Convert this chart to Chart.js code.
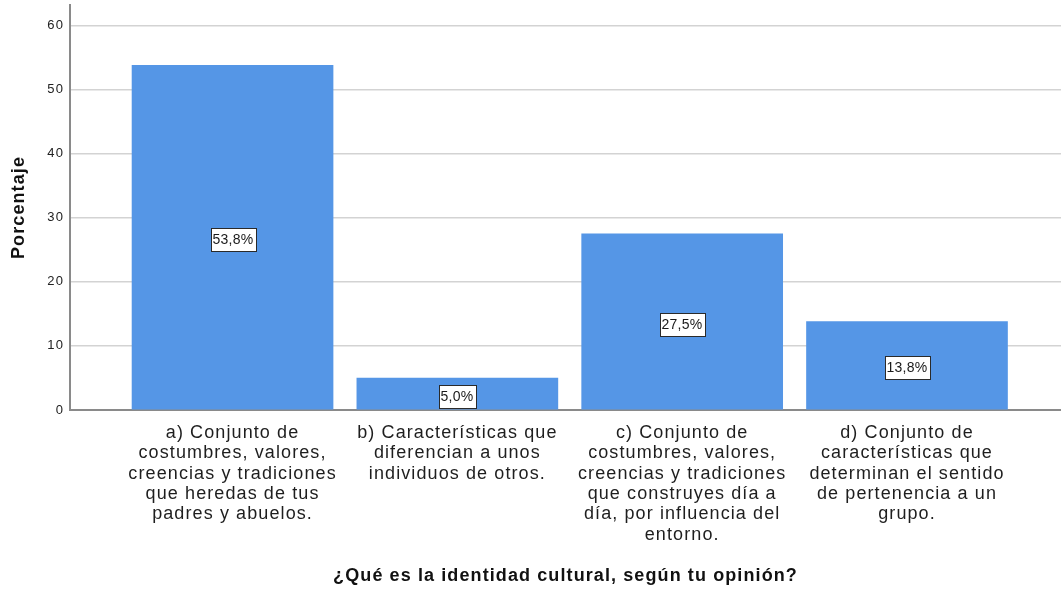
<!DOCTYPE html>
<html lang="es">
<head>
  <meta charset="UTF-8">
  <title>Identidad cultural</title>
  <script src="https://cdn.jsdelivr.net/npm/chart.js"></script>
  <style>
    body {
      margin: 0;
      background: #fff;
    }
    #grafico {
      display: block;
    }
  </style>
</head>
<body>
  <canvas id="grafico" width="1061" height="589"></canvas>

  <script>
    // Datos
    const categorias = [
      ['a) Conjunto de', 'costumbres, valores,', 'creencias y tradiciones', 'que heredas de tus', 'padres y abuelos.'],
      ['b) Características que', 'diferencian a unos', 'individuos de otros.'],
      ['c) Conjunto de', 'costumbres, valores,', 'creencias y tradiciones', 'que construyes día a', 'día, por influencia del', 'entorno.'],
      ['d) Conjunto de', 'características que', 'determinan el sentido', 'de pertenencia a un', 'grupo.']
    ];
    const porcentajes = [53.8, 5.0, 27.5, 13.8];
    const tituloX = '¿Qué es la identidad cultural, según tu opinión?';
    const tituloY = 'Porcentaje';

    const FUENTE = '"Liberation Sans", Arial, sans-serif';
    const ESPACIADO = '1.1px';

    // el grafico original esta algo estirado, se imita con letterSpacing
    const espaciado = {
      id: 'espaciado',
      beforeLayout(chart) { chart.ctx.letterSpacing = ESPACIADO; },
      beforeDraw(chart) { chart.ctx.letterSpacing = ESPACIADO; }
    };

    // etiquetas con caja blanca en el centro de cada barra
    const etiquetas = {
      id: 'etiquetas',
      afterDatasetsDraw(chart) {
        const ctx = chart.ctx;
        const meta = chart.getDatasetMeta(0);
        ctx.save();
        ctx.letterSpacing = '0.3px';
        ctx.font = '14px ' + FUENTE;
        ctx.textAlign = 'center';
        ctx.textBaseline = 'middle';
        meta.data.forEach((barra, i) => {
          const texto = porcentajes[i].toFixed(1).replace('.', ',') + '%';
          const w = Math.round(ctx.measureText(texto).width + 4);
          const h = 23;
          const cx = Math.round(barra.x);
          const cy = Math.round((barra.y + barra.base) / 2 + 2);
          const x0 = Math.round(cx - w / 2) + 0.5;
          const y0 = Math.round(cy - h / 2) + 0.5;
          ctx.fillStyle = '#ffffff';
          ctx.fillRect(x0, y0, w, h);
          ctx.strokeStyle = '#2a2a2a';
          ctx.lineWidth = 1;
          ctx.strokeRect(x0, y0, w, h);
          ctx.fillStyle = '#1a1a1a';
          ctx.fillText(texto, cx, cy + 1);
        });
        ctx.restore();
      }
    };

    const ctx = document.getElementById('grafico').getContext('2d');

    new Chart(ctx, {
      type: 'bar',
      data: {
        datasets: [{
          data: porcentajes.map((v, i) => ({ x: i + 1, y: v })),
          backgroundColor: '#5596e6',
          borderWidth: 0,
          barThickness: 201
        }]
      },
      options: {
        responsive: false,
        animation: false,
        layout: {
          padding: { top: 5, left: 0, right: 0, bottom: 0 }
        },
        plugins: {
          legend: { display: false },
          tooltip: { enabled: false }
        },
        scales: {
          x: {
            type: 'linear',
            offset: false,
            min: 0.277,
            max: 4.685,
            afterBuildTicks: scale => {
              scale.ticks = categorias.map((c, i) => ({ value: i + 1 }));
            },
            afterFit: scale => {
              scale.height = 179;
              scale.paddingLeft = 0;
              scale.paddingRight = 0;
            },
            grid: { display: false, drawTicks: false, offset: false },
            border: { display: true, color: '#8a8a8a', width: 2 },
            ticks: {
              autoSkip: false,
              maxRotation: 0,
              minRotation: 0,
              padding: 13,
              color: '#1e1e1e',
              font: { family: FUENTE, size: 18, lineHeight: 1.13 },
              callback: value => categorias[value - 1]
            },
            title: {
              display: true,
              text: tituloX,
              color: '#111',
              font: { family: FUENTE, size: 18, weight: 'bold' },
              padding: { top: 4, bottom: 2 }
            }
          },
          y: {
            min: 0,
            max: 63.2,
            afterFit: scale => {
              scale.width = 70;
              scale.paddingTop = 0;
              scale.paddingBottom = 0;
            },
            grid: { color: '#d3d3d3', lineWidth: 1.5, drawTicks: false },
            border: { display: true, color: '#8a8a8a', width: 2 },
            ticks: {
              stepSize: 10,
              includeBounds: false,
              padding: 6,
              color: '#222',
              font: { family: FUENTE, size: 13 }
            },
            title: {
              display: true,
              text: tituloY,
              color: '#111',
              font: { family: FUENTE, size: 18, weight: 'bold' },
              padding: { top: 8, bottom: 0 }
            }
          }
        }
      },
      plugins: [espaciado, etiquetas]
    });
  </script>
</body>
</html>
